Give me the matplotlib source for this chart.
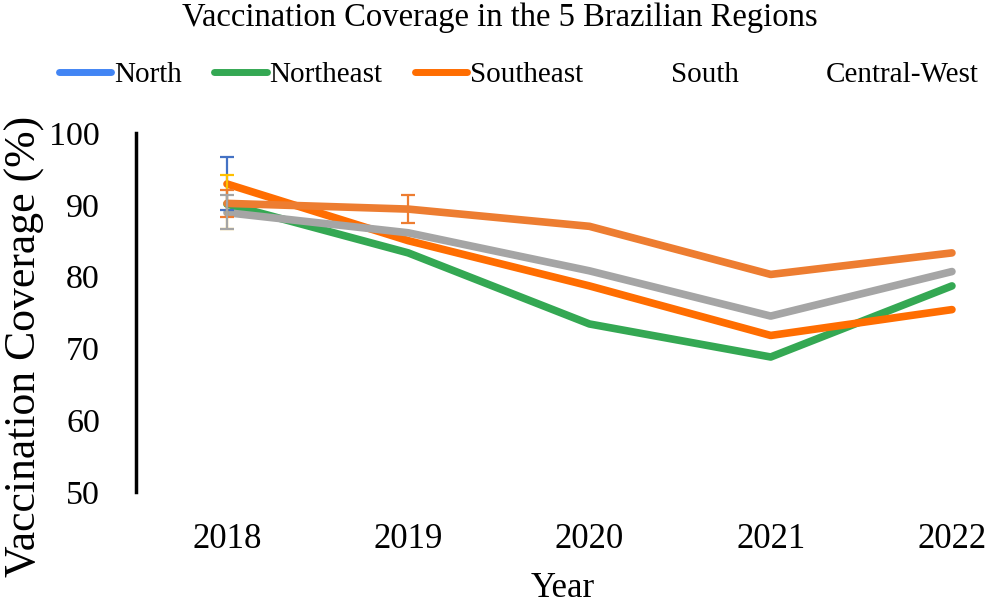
import matplotlib
matplotlib.use("Agg")
import matplotlib.pyplot as plt
from matplotlib.lines import Line2D
import numpy as np

plt.rcParams['font.family'] = ['Liberation Serif', 'DejaVu Serif']

years = [2018, 2019, 2020, 2021, 2022]

# line series
northeast = [90.1, 83.3, 73.4, 68.8, 78.7]
southeast = [92.9, 85.0, 78.7, 71.8, 75.4]
south = [88.9, 86.1, 80.8, 74.5, 80.7]
central_west = [90.2, 89.4, 87.0, 80.3, 83.3]

# error bars (year, centre, half-width, colour)
err_years = [2018, 2018, 2018, 2018, 2019]
err_centre = [93.0, 90.4, 90.2, 89.0, 89.4]
err_half = [3.7, 3.8, 1.9, 2.4, 1.9]
err_colors = ['#4472C4', '#FFC000', '#ED7D31', '#A5A5A5', '#ED7D31']

legend_names = ['North', 'Northeast', 'Southeast', 'South', 'Central-West']
legend_colors = ['#4285F4', '#34A853', '#FF6D01', 'none', 'none']

fig = plt.figure(figsize=(10, 6.07), dpi=100)
ax = fig.add_axes([0.136, 0.1895, 0.854, 0.5914])

lw = 5.5
ax.plot(years, northeast, color='#34A853', lw=lw, solid_capstyle='round', solid_joinstyle='round', zorder=2)
ax.plot(years, southeast, color='#FF6D01', lw=lw, solid_capstyle='round', solid_joinstyle='round', zorder=3)
ax.plot(years, south, color='#A5A5A5', lw=lw, solid_capstyle='round', solid_joinstyle='round', zorder=4)
ax.plot(years, central_west, color='#ED7D31', lw=lw, solid_capstyle='round', solid_joinstyle='round', zorder=5)

for x, c, e, col in zip(err_years, err_centre, err_half, err_colors):
    ax.errorbar(x, c, yerr=e, fmt='none', ecolor=col, elinewidth=1.6, capsize=5, capthick=1.6, zorder=6)

ax.set_ylim(50, 100)
ax.set_xlim(2018 - 0.502, 2022.21)
ax.set_yticks([50, 60, 70, 80, 90, 100])
ax.set_xticks(years)
ax.tick_params(axis='both', length=0)
ax.tick_params(axis='y', pad=26, labelsize=24.5)
ax.tick_params(axis='x', pad=22, labelsize=25)

for s in ['top', 'right', 'bottom']:
    ax.spines[s].set_visible(False)
ax.spines['left'].set_linewidth(2.5)
ax.spines['left'].set_color('black')

ax.set_ylabel('Vaccination Coverage (%)', fontsize=31.5)
ax.yaxis.set_label_coords(-0.106, 0.405)
ax.set_xlabel('Year', fontsize=25, labelpad=12)

fig.text(0.5, 0.97, 'Vaccination Coverage in the 5 Brazilian Regions', ha='center', va='center', fontsize=23.5)

handles = [Line2D([0], [0], color=c, lw=5, solid_capstyle='round') for c in legend_colors]
fig.legend(handles, legend_names, loc='center', bbox_to_anchor=(0.519, 0.876), ncol=5, frameon=False,
           fontsize=21, handlelength=1.8, handletextpad=0.1, columnspacing=1.1)

fig.savefig('out.png', dpi=100)
